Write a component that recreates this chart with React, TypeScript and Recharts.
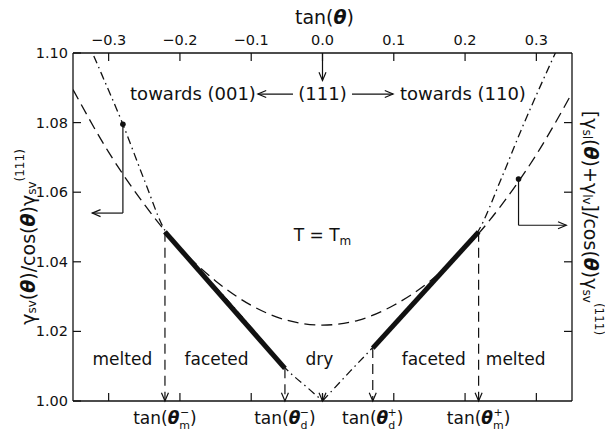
import React from 'react';
import { LineChart, Line, XAxis, YAxis, ReferenceLine, ReferenceDot } from 'recharts';

const X_TICKS = [-0.3, -0.2, -0.1, 0, 0.1, 0.2, 0.3];
const Y_TICKS = [1.0, 1.02, 1.04, 1.06, 1.08, 1.1];
const RIGHT_TICKS = [1.02, 1.04, 1.06, 1.08];

// tan(theta) at the melting and drying boundaries
const TAN_M_MINUS = -0.221;
const TAN_D_MINUS = -0.0527;
const TAN_D_PLUS = 0.0705;
const TAN_M_PLUS = 0.219;
const THETA_TICKS = [TAN_M_MINUS, TAN_D_MINUS, TAN_D_PLUS, TAN_M_PLUS];
const THETA_MARKS = [['m', '\u2212'], ['d', '\u2212'], ['d', '+'], ['m', '+']];

// [gamma_sl + gamma_lv] / cos(theta) gamma_sv(111)  (dashed)
const WET_X = [-0.35, -0.3, -0.25, -0.2, -0.15, -0.1, -0.05, 0, 0.05, 0.1, 0.15, 0.2, 0.25, 0.3, 0.35];
const WET_Y = [1.0895, 1.0715, 1.0565, 1.044, 1.0345, 1.0275, 1.0232, 1.0218, 1.0232, 1.0275, 1.0343, 1.0438, 1.056, 1.0708, 1.0885];

// gamma_sv / cos(theta) gamma_sv(111)  (dash-dot), two branches around the cusp
const DRY_LEFT_X = [-0.35, -0.33, -0.31, -0.28, -0.25, -0.221, -0.2, -0.17, -0.14, -0.11, -0.08, -0.0527, -0.0176, 0];
const DRY_LEFT_Y = [1.113, 1.1035, 1.094, 1.0795, 1.0635, 1.049, 1.044, 1.037, 1.0305, 1.0235, 1.0163, 1.0096, 1.0032, 1.0];
const DRY_RIGHT_X = [0, 0.0386, 0.0705, 0.1, 0.13, 0.16, 0.19, 0.219, 0.25, 0.28, 0.31, 0.33, 0.35];
const DRY_RIGHT_Y = [1.0, 1.0085, 1.0154, 1.0222, 1.0289, 1.0356, 1.0423, 1.049, 1.0635, 1.0785, 1.0925, 1.1015, 1.1105];

// faceted segments between the boundaries
const FACET_LEFT_Y = [1.0486, 1.0094];
const FACET_RIGHT_Y = [1.0152, 1.0486];

const pts = (xs: number[], ys: number[]) => xs.map((x, i) => ({ x, y: ys[i] }));

const wet = pts(WET_X, WET_Y);
const dryLeft = pts(DRY_LEFT_X, DRY_LEFT_Y);
const dryRight = pts(DRY_RIGHT_X, DRY_RIGHT_Y);
const facetLeft = pts([TAN_M_MINUS, TAN_D_MINUS], FACET_LEFT_Y);
const facetRight = pts([TAN_D_PLUS, TAN_M_PLUS], FACET_RIGHT_Y);

const INK = '#111';
const FONT = 'DejaVu Sans';
const AXIS = { stroke: INK, strokeWidth: 1.3 };

const Th = () => <tspan fontStyle="italic" fontWeight="bold">θ</tspan>;

const fmtX = (v: number) => (v < 0 ? '\u2212' : '') + Math.abs(v).toFixed(1);

const TopTick = ({ x, y, payload }: any) => (
  <g>
    <line x1={x} x2={x} y1={y} y2={y + 8} stroke={INK} strokeWidth={1.2} />
    <text x={x} y={y - 8} textAnchor="middle" fontSize={14.5} fontFamily={FONT} fill={INK}>
      {fmtX(payload.value)}
    </text>
  </g>
);

// plain ticks point inward; the boundary ticks carry the tan(theta) names
const BottomTick = ({ x, y, payload }: any) => {
  const k = THETA_TICKS.indexOf(payload.value);
  if (k < 0) return <line x1={x} x2={x} y1={y} y2={y - 8} stroke={INK} strokeWidth={1.2} />;
  const [sub, sup] = THETA_MARKS[k];
  const back = sub === 'm' ? -10.2 : -7.6;
  return (
    <text x={x} y={y + 23} textAnchor="middle" fontSize={17} fontFamily={FONT} fill={INK}>
      tan(<Th />
      <tspan dy={5} fontSize={11}>{sub}</tspan>
      <tspan dx={back} dy={-13} fontSize={11}>{sup}</tspan>
      <tspan dx={sub === 'm' ? 1 : 0} dy={8}>)</tspan>
    </text>
  );
};

const LeftTick = ({ x, y, payload }: any) => (
  <g>
    <line x1={x} x2={x + 8} y1={y} y2={y} stroke={INK} strokeWidth={1.2} />
    <text x={x - 5} y={y} textAnchor="end" dominantBaseline="central" fontSize={14.5} fontFamily={FONT} fill={INK}>
      {payload.value.toFixed(2)}
    </text>
  </g>
);

const RightTick = ({ x, y }: any) => (
  <line x1={x} x2={x - 8} y1={y} y2={y} stroke={INK} strokeWidth={1.2} />
);

const topTitle = (p: any) => {
  const vb = p.viewBox;
  return (
    <text x={vb.x + vb.width / 2 + 2} y={vb.y + 24} textAnchor="middle" fontSize={19} fontFamily={FONT} fill={INK}>
      tan(<Th />)
    </text>
  );
};

const leftTitle = (p: any) => {
  const vb = p.viewBox;
  const cx = vb.x + 28;
  const cy = vb.y + vb.height / 2 + 10;
  return (
    <text transform={`translate(${cx},${cy}) rotate(-90)`} textAnchor="middle" dominantBaseline="central" fontSize={19} fontFamily={FONT} fill={INK}>
      γ<tspan dy={4} fontSize={12}>sv</tspan>
      <tspan dy={-4}>(</tspan><Th />)/cos(<Th />)γ
      <tspan dy={4} fontSize={12}>sv</tspan>
      <tspan dy={-12} fontSize={12}>(111)</tspan>
    </text>
  );
};

const rightTitle = (p: any) => {
  const vb = p.viewBox;
  const cx = vb.x + 19;
  const cy = vb.y + vb.height / 2 - 4;
  return (
    <text transform={`translate(${cx},${cy}) rotate(90)`} textAnchor="middle" dominantBaseline="central" fontSize={19} fontFamily={FONT} fill={INK}>
      [γ<tspan dy={4} fontSize={12}>sl</tspan>
      <tspan dy={-4}>(</tspan><Th />)+γ
      <tspan dy={4} fontSize={12}>lv</tspan>
      <tspan dy={-4}>]/cos(</tspan><Th />)γ
      <tspan dy={4} fontSize={12}>sv</tspan>
      <tspan dy={-12} fontSize={12}>(111)</tspan>
    </text>
  );
};

// line with an open arrowhead at its second end
const arrow = (dash?: string) => (p: any) => {
  const { x1, y1, x2, y2 } = p;
  const a = Math.atan2(y2 - y1, x2 - x1);
  const L = 9;
  const s = 0.4;
  const h1 = [x2 - L * Math.cos(a - s), y2 - L * Math.sin(a - s)];
  const h2 = [x2 - L * Math.cos(a + s), y2 - L * Math.sin(a + s)];
  return (
    <g>
      <line x1={x1} y1={y1} x2={x2} y2={y2} stroke={INK} strokeWidth={1.2} strokeDasharray={dash} />
      <path d={`M${h1[0]},${h1[1]}L${x2},${y2}L${h2[0]},${h2[1]}`} fill="none" stroke={INK} strokeWidth={1.2} />
    </g>
  );
};

const plain = (p: any) => <line x1={p.x1} y1={p.y1} x2={p.x2} y2={p.y2} stroke={INK} strokeWidth={1.2} />;

const note = (content: React.ReactNode, anchor = 'middle', size = 17) => (p: any) => (
  <text x={p.cx} y={p.cy} textAnchor={anchor} fontSize={size} fontFamily={FONT} fill={INK}>
    {content}
  </text>
);

const ids = { xAxisId: 'bottom', yAxisId: 'left', ifOverflow: 'visible' as const };

export default function App() {
  return (
    <div style={{ width: 605, height: 431, background: '#fff' }}>
      <style>{'body{margin:0}'}</style>
      <LineChart width={605} height={431} margin={{ top: 0, right: 0, bottom: 0, left: 0 }}>
        <XAxis xAxisId="top" orientation="top" dataKey="x" type="number" domain={[-0.35, 0.35]} allowDataOverflow
          ticks={X_TICKS} interval={0} height={53} tickLine={false} tickSize={0} tickMargin={0}
          tick={TopTick} axisLine={AXIS} label={topTitle} />
        <XAxis xAxisId="bottom" orientation="bottom" dataKey="x" type="number" domain={[-0.35, 0.35]} allowDataOverflow
          ticks={[...X_TICKS, ...THETA_TICKS]} interval={0} height={30} tickLine={false} tickSize={0} tickMargin={0}
          tick={BottomTick} axisLine={AXIS} />
        <YAxis yAxisId="left" type="number" domain={[1.0, 1.1]} allowDataOverflow ticks={Y_TICKS} interval={0}
          width={73} tickLine={false} tickSize={0} tickMargin={0} tick={LeftTick} axisLine={AXIS} label={leftTitle} />
        <YAxis yAxisId="right" orientation="right" type="number" domain={[1.0, 1.1]} allowDataOverflow ticks={RIGHT_TICKS}
          interval={0} width={33} tickLine={false} tickSize={0} tickMargin={0} tick={RightTick} axisLine={AXIS} label={rightTitle} />

        <Line xAxisId="bottom" yAxisId="left" data={wet} dataKey="y" type="monotone" stroke={INK} strokeWidth={1.3}
          strokeDasharray="11 6" dot={false} isAnimationActive={false} />
        <Line xAxisId="bottom" yAxisId="left" data={dryLeft} dataKey="y" type="monotone" stroke={INK} strokeWidth={1.3}
          strokeDasharray="8 4 1.5 4" dot={false} isAnimationActive={false} />
        <Line xAxisId="bottom" yAxisId="left" data={dryRight} dataKey="y" type="monotone" stroke={INK} strokeWidth={1.3}
          strokeDasharray="8 4 1.5 4" dot={false} isAnimationActive={false} />
        <Line xAxisId="bottom" yAxisId="left" data={facetLeft} dataKey="y" type="linear" stroke={INK} strokeWidth={5}
          dot={false} isAnimationActive={false} />
        <Line xAxisId="bottom" yAxisId="left" data={facetRight} dataKey="y" type="linear" stroke={INK} strokeWidth={5}
          dot={false} isAnimationActive={false} />

        {/* boundary markers down to the axis */}
        <ReferenceLine {...ids} segment={[{ x: TAN_M_MINUS, y: FACET_LEFT_Y[0] }, { x: TAN_M_MINUS, y: 1.0 }]} shape={arrow('10 6')} />
        <ReferenceLine {...ids} segment={[{ x: TAN_D_MINUS, y: FACET_LEFT_Y[1] }, { x: TAN_D_MINUS, y: 1.0 }]} shape={arrow('10 6')} />
        <ReferenceLine {...ids} segment={[{ x: TAN_D_PLUS, y: FACET_RIGHT_Y[0] }, { x: TAN_D_PLUS, y: 1.0 }]} shape={arrow('10 6')} />
        <ReferenceLine {...ids} segment={[{ x: TAN_M_PLUS, y: FACET_RIGHT_Y[1] }, { x: TAN_M_PLUS, y: 1.0 }]} shape={arrow('10 6')} />
        <ReferenceLine {...ids} segment={[{ x: 0, y: 1.002 }, { x: 0, y: 1.0 }]} shape={arrow()} />

        {/* (111) pointer and orientation row */}
        <ReferenceLine {...ids} segment={[{ x: 0, y: 1.1 }, { x: 0, y: 1.0921 }]} shape={arrow()} />
        <ReferenceLine {...ids} segment={[{ x: -0.0414, y: 1.0882 }, { x: -0.0906, y: 1.0882 }]} shape={arrow()} />
        <ReferenceLine {...ids} segment={[{ x: 0.0414, y: 1.0882 }, { x: 0.099, y: 1.0882 }]} shape={arrow()} />
        <ReferenceDot {...ids} x={-0.0934} y={1.0864} r={0} shape={note('towards (001)', 'end', 18)} />
        <ReferenceDot {...ids} x={0} y={1.0864} r={0} shape={note('(111)', 'middle', 18)} />
        <ReferenceDot {...ids} x={0.1088} y={1.0864} r={0} shape={note('towards (110)', 'start', 18)} />

        {/* curve keys pointing to their axes */}
        <ReferenceLine {...ids} segment={[{ x: -0.28, y: 1.0795 }, { x: -0.28, y: 1.054 }]} shape={plain} />
        <ReferenceLine {...ids} segment={[{ x: -0.28, y: 1.054 }, { x: -0.323, y: 1.054 }]} shape={arrow()} />
        <ReferenceDot {...ids} x={-0.28} y={1.0795} r={2.8} fill={INK} stroke="none" />
        <ReferenceLine {...ids} segment={[{ x: 0.275, y: 1.0638 }, { x: 0.275, y: 1.0505 }]} shape={plain} />
        <ReferenceLine {...ids} segment={[{ x: 0.275, y: 1.0505 }, { x: 0.342, y: 1.0505 }]} shape={arrow()} />
        <ReferenceDot {...ids} x={0.275} y={1.0638} r={2.8} fill={INK} stroke="none" />

        <ReferenceDot {...ids} x={0} y={1.046} r={0}
          shape={note(<>T = T<tspan dy={4} fontSize={12}>m</tspan></>, 'middle', 17)} />

        {/* regime labels */}
        <ReferenceDot {...ids} x={-0.2807} y={1.0104} r={0} shape={note('melted')} />
        <ReferenceDot {...ids} x={-0.1486} y={1.0104} r={0} shape={note('faceted')} />
        <ReferenceDot {...ids} x={-0.0042} y={1.0104} r={0} shape={note('dry')} />
        <ReferenceDot {...ids} x={0.156} y={1.0104} r={0} shape={note('faceted')} />
        <ReferenceDot {...ids} x={0.271} y={1.0104} r={0} shape={note('melted')} />
      </LineChart>
    </div>
  );
}
